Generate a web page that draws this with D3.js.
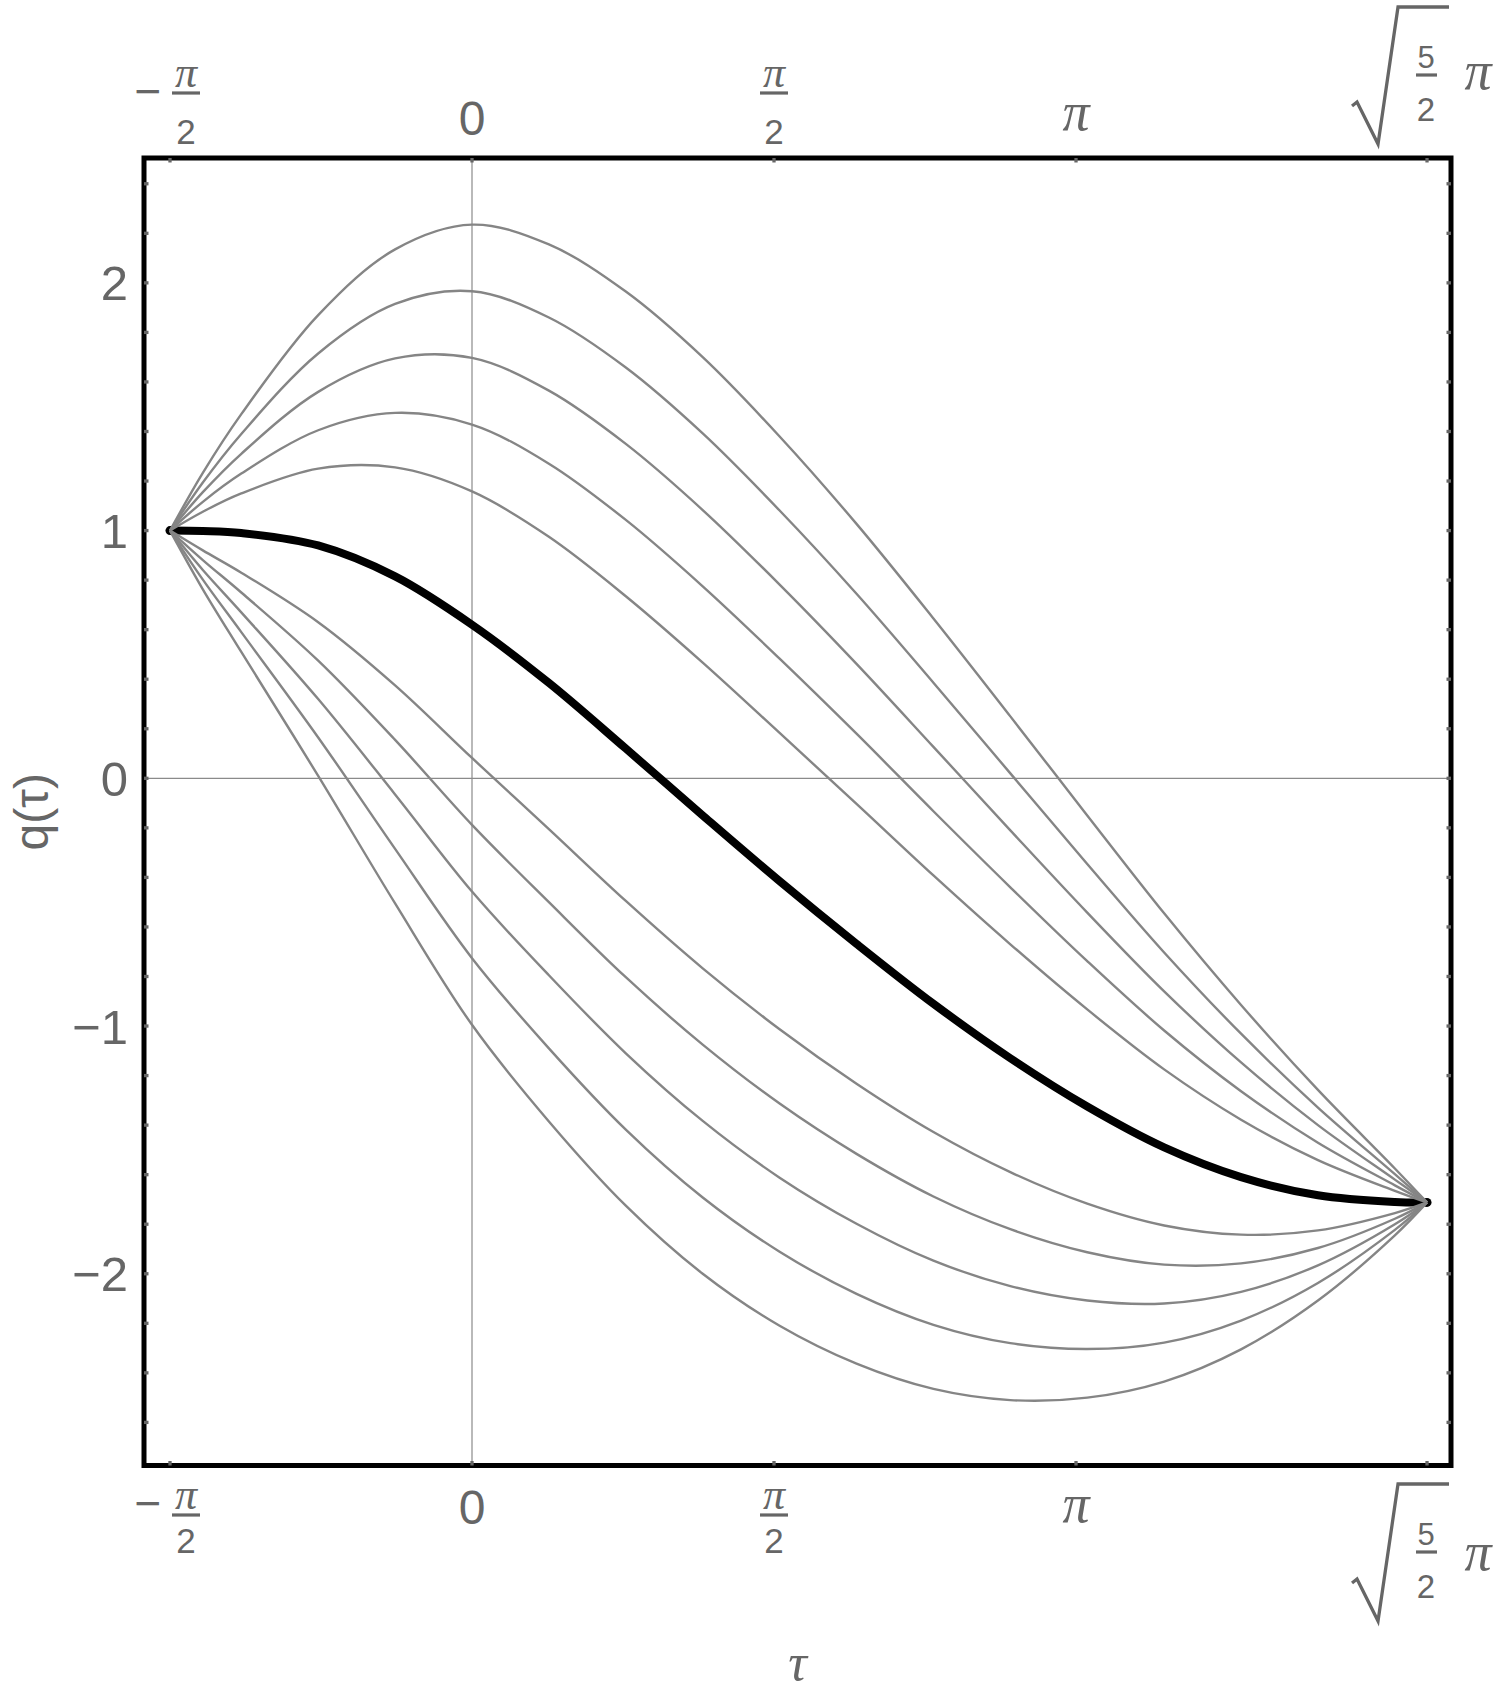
<!DOCTYPE html>
<html>
<head>
<meta charset="utf-8">
<script src="https://cdn.jsdelivr.net/npm/d3@7"></script>
<style>
  body { margin: 0; background: #fff; }
  svg text { font-family: "Liberation Sans", Arial, sans-serif; fill: #666; }
  svg text.greek { font-family: "Liberation Serif", "Times New Roman", serif; font-style: italic; }
</style>
</head>
<body>
<div id="chart"></div>
<script>
// sample times, shared by every path
const tau = [-Math.PI / 2, -1.4, -1.2, -0.8, -0.4, 0, 0.4, 0.8, 1.2, 1.6, 2.0, 2.4, 2.8, 3.2, 3.6, 4.0, 4.4, 4.8, Math.sqrt(2.5) * Math.PI];

// classical path (thick black)
const qClassical = [1.00, 0.998, 0.99, 0.94, 0.815, 0.62, 0.385, 0.12, -0.15, -0.415, -0.668, -0.91, -1.13, -1.325, -1.49, -1.61, -1.683, -1.71, -1.712];

// varied paths above the classical one (top to bottom)
const upper1 = [1.00, 1.233, 1.47, 1.87, 2.135, 2.235, 2.155, 1.965, 1.70, 1.38, 1.027, 0.645, 0.25, -0.15, -0.545, -0.915, -1.258, -1.575, -1.712];
const upper2 = [1.00, 1.194, 1.39, 1.715, 1.915, 1.966, 1.86, 1.658, 1.392, 1.081, 0.745, 0.386, 0.02, -0.346, -0.703, -1.031, -1.329, -1.598, -1.712];
const upper3 = [1.00, 1.155, 1.31, 1.56, 1.695, 1.697, 1.565, 1.35, 1.083, 0.782, 0.462, 0.127, -0.21, -0.542, -0.86, -1.147, -1.40, -1.62, -1.712];
const upper4 = [1.00, 1.116, 1.23, 1.405, 1.475, 1.428, 1.27, 1.043, 0.775, 0.483, 0.18, -0.133, -0.44, -0.738, -1.018, -1.263, -1.471, -1.643, -1.712];
const upper5 = [1.00, 1.076, 1.15, 1.25, 1.255, 1.158, 0.975, 0.735, 0.467, 0.183, -0.103, -0.392, -0.67, -0.933, -1.175, -1.378, -1.541, -1.665, -1.712];

// varied paths below the classical one (top to bottom)
const lower1 = [1.00, 0.92, 0.83, 0.63, 0.375, 0.082, -0.205, -0.495, -0.767, -1.013, -1.233, -1.428, -1.59, -1.717, -1.805, -1.842, -1.825, -1.755, -1.712];
const lower2 = [1.00, 0.881, 0.75, 0.475, 0.155, -0.188, -0.50, -0.803, -1.075, -1.313, -1.516, -1.688, -1.82, -1.913, -1.963, -1.958, -1.896, -1.778, -1.712];
const lower3 = [1.00, 0.841, 0.67, 0.32, -0.065, -0.457, -0.795, -1.11, -1.383, -1.612, -1.798, -1.947, -2.05, -2.108, -2.12, -2.073, -1.966, -1.80, -1.712];
const lower4 = [1.00, 0.802, 0.59, 0.165, -0.285, -0.726, -1.09, -1.418, -1.692, -1.911, -2.081, -2.206, -2.28, -2.304, -2.278, -2.189, -2.037, -1.823, -1.712];
const lower5 = [1.00, 0.763, 0.51, 0.01, -0.505, -0.995, -1.385, -1.725, -2.00, -2.21, -2.363, -2.465, -2.51, -2.50, -2.435, -2.305, -2.108, -1.845, -1.712];

// ticks
const xTickValues = [-Math.PI / 2, 0, Math.PI / 2, Math.PI, Math.sqrt(2.5) * Math.PI];
const xTickLabels = [
  {kind: "frac", sign: "−", num: "π", den: "2"},
  {kind: "text", text: "0"},
  {kind: "frac", sign: "", num: "π", den: "2"},
  {kind: "pi", text: "π"},
  {kind: "sqrt", num: "5", den: "2", factor: "π"}
];
const yTickValues = [-2, -1, 0, 1, 2];
const yTickLabels = ["−2", "−1", "0", "1", "2"];
const yMinorTicks = [-2.6, -2.4, -2.2, -1.8, -1.6, -1.4, -1.2, -0.8, -0.6, -0.4, -0.2,
                     0.2, 0.4, 0.6, 0.8, 1.2, 1.4, 1.6, 1.8, 2.2, 2.4];

const width = 1500, height = 1699;
const margin = {left: 144, top: 158, right: 49, bottom: 233.5};
const frameTop = margin.top, frameBottom = height - margin.bottom;
const frameLeft = margin.left, frameRight = width - margin.right;

const svg = d3.select("#chart").append("svg")
    .attr("width", width)
    .attr("height", height);

const x = d3.scaleLinear().domain([-1.706, 5.092]).range([frameLeft, frameRight]);
const y = d3.scaleLinear().domain([-2.774, 2.504]).range([frameBottom, frameTop]);

const line = d3.line()
    .x(function(d) { return x(d[0]); })
    .y(function(d) { return y(d[1]); })
    .curve(d3.curveCatmullRom.alpha(0.5));

function pts(q) { return tau.map(function(t, i) { return [t, q[i]]; }); }

// axes through the origin
svg.append("line")
    .attr("x1", x(0)).attr("x2", x(0))
    .attr("y1", frameTop).attr("y2", frameBottom)
    .style("stroke", "#8a8a8a").style("stroke-width", 1.2);
svg.append("line")
    .attr("x1", frameLeft).attr("x2", frameRight)
    .attr("y1", y(0)).attr("y2", y(0))
    .style("stroke", "#8a8a8a").style("stroke-width", 1.2);

// classical path + end points
svg.append("path")
    .attr("d", line(pts(qClassical)))
    .style("fill", "none").style("stroke", "#000").style("stroke-width", 8);
svg.selectAll("circle.endpt")
    .data([[tau[0], qClassical[0]], [tau[tau.length - 1], qClassical[qClassical.length - 1]]])
    .enter().append("circle")
    .attr("class", "endpt")
    .attr("cx", function(d) { return x(d[0]); })
    .attr("cy", function(d) { return y(d[1]); })
    .attr("r", 4.5)
    .style("fill", "#000");

// varied paths
const varied = [upper1, upper2, upper3, upper4, upper5, lower1, lower2, lower3, lower4, lower5];
svg.append("g")
    .selectAll("path")
    .data(varied)
    .enter().append("path")
    .attr("d", function(d) { return line(pts(d)); })
    .style("fill", "none")
    .style("stroke", "#858585")
    .style("stroke-width", 2.4);

// frame
svg.append("rect")
    .attr("x", frameLeft).attr("y", frameTop)
    .attr("width", frameRight - frameLeft)
    .attr("height", frameBottom - frameTop)
    .style("fill", "none").style("stroke", "#000").style("stroke-width", 5);

// ticks (drawn over the frame, pointing inward)
const tickG = svg.append("g").style("stroke", "#666").style("stroke-width", 3.3);
xTickValues.forEach(function(v) {
  tickG.append("line").attr("x1", x(v)).attr("x2", x(v)).attr("y1", frameTop).attr("y2", frameTop + 4.5);
  tickG.append("line").attr("x1", x(v)).attr("x2", x(v)).attr("y1", frameBottom).attr("y2", frameBottom - 4.5);
});
yTickValues.concat(yMinorTicks).forEach(function(v) {
  tickG.append("line").attr("x1", frameLeft).attr("x2", frameLeft + 4.5).attr("y1", y(v)).attr("y2", y(v));
  tickG.append("line").attr("x1", frameRight).attr("x2", frameRight - 4.5).attr("y1", y(v)).attr("y2", y(v));
});

// y tick labels
svg.append("g").selectAll("text")
    .data(yTickValues)
    .enter().append("text")
    .attr("x", 128)
    .attr("y", function(d) { return y(d) + 17.5; })
    .attr("text-anchor", "end")
    .style("font-size", "49px")
    .text(function(d, i) { return yTickLabels[i]; });

// x tick labels, top and bottom (baselines)
const layouts = [
  {text: 135, pi: 130, num: 87, bar: 93, den: 144, minus: 107, sqrt: 7, sqrtPi: 82},
  {text: 1524, pi: 1522, num: 1509, bar: 1515, den: 1553, minus: 1519, sqrt: 1484, sqrtPi: 86}
];

function txt(g, px, py, s, fs, greek) {
  return g.append("text").attr("x", px).attr("y", py)
    .attr("class", greek ? "greek" : null)
    .attr("text-anchor", "middle").style("font-size", fs + "px").text(s);
}

layouts.forEach(function(L) {
  const g = svg.append("g");
  xTickValues.forEach(function(v, i) {
    const lab = xTickLabels[i], cx = x(v);
    if (lab.kind === "text") {
      txt(g, cx, L.text, lab.text, 48);
    } else if (lab.kind === "pi") {
      txt(g, cx, L.pi, lab.text, 54, true);
    } else if (lab.kind === "frac") {
      const fx = lab.sign ? cx + 16 : cx;
      if (lab.sign) txt(g, cx - 22, L.minus, lab.sign, 46);
      txt(g, fx, L.num, lab.num, 44, true);
      g.append("line").attr("x1", fx - 14).attr("x2", fx + 14)
        .attr("y1", L.bar).attr("y2", L.bar)
        .style("stroke", "#666").style("stroke-width", 3.2);
      txt(g, fx, L.den, lab.den, 35);
    } else {
      const y0 = L.sqrt;
      g.append("path")
        .attr("d", "M" + (cx - 75) + "," + (y0 + 99) + "L" + (cx - 70) + "," + (y0 + 95) +
                   "L" + (cx - 49) + "," + (y0 + 137) + "L" + (cx - 29) + "," + y0 +
                   "L" + (cx + 22) + "," + y0)
        .style("fill", "none").style("stroke", "#666").style("stroke-width", 3.3)
        .style("stroke-linejoin", "miter");
      txt(g, cx - 1, y0 + 61, lab.num, 31);
      g.append("line").attr("x1", cx - 11).attr("x2", cx + 10)
        .attr("y1", y0 + 68).attr("y2", y0 + 68)
        .style("stroke", "#666").style("stroke-width", 3.2);
      txt(g, cx - 1, y0 + 114, lab.den, 33);
      txt(g, cx + 51, y0 + L.sqrtPi, lab.factor, 54, true);
    }
  });
});

// axis titles
svg.append("text")
    .attr("transform", "translate(48," + ((frameTop + frameBottom) / 2) + ") rotate(-90)")
    .attr("text-anchor", "middle")
    .style("font-size", "48px")
    .text("q(τ)");
svg.append("text")
    .attr("class", "greek")
    .attr("x", (frameLeft + frameRight) / 2)
    .attr("y", 1680)
    .attr("text-anchor", "middle")
    .style("font-size", "52px")
    .text("τ");
</script>
</body>
</html>
